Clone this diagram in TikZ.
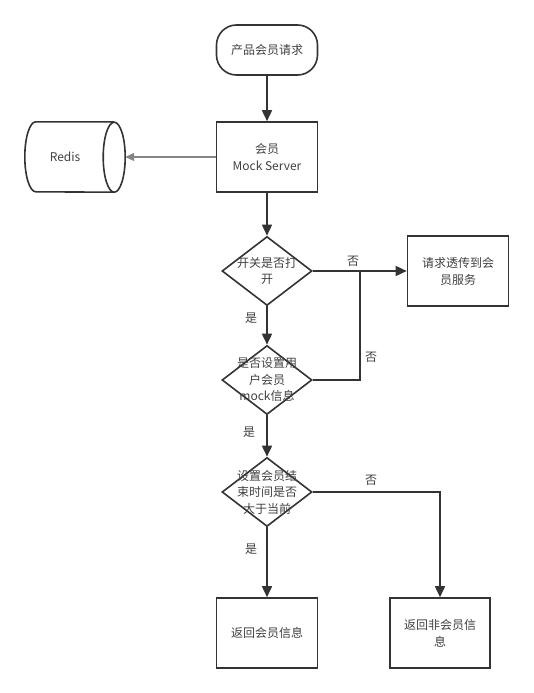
\documentclass[tikz,border=0pt]{standalone}
\usepackage{fontspec}
\setmainfont{Noto Sans CJK SC}
\usetikzlibrary{arrows.meta,shapes.geometric}
\definecolor{flowLine}{HTML}{333333}
\definecolor{flowText}{HTML}{404040}
\definecolor{flowGray}{HTML}{858585}
\tikzset{
    fbox/.style={draw=flowLine, line width=1.6pt, minimum width=101pt, minimum height=70pt, align=center, text=flowText, font=\fontsize{12}{17}\selectfont},
    fterm/.style={fbox, rounded corners=20pt, minimum height=50pt},
    fdiam/.style={draw=flowLine, line width=1.6pt, diamond, minimum width=90pt, minimum height=69pt, inner sep=0pt},
    fdtext/.style={align=center, text=flowText, font=\fontsize{12}{16.5}\selectfont},
    fline/.style={-{Triangle[length=11pt, width=10pt]}, line width=1.6pt, draw=flowLine},
    flabel/.style={text=flowText, font=\fontsize{12}{14}\selectfont},
    fend/.style={x radius=11pt, y radius=35pt}
}

\begin{document}
\begin{tikzpicture}[x=1pt, y=-1pt]
            \useasboundingbox (0,0) rectangle (534,693);
            \node[fterm] (start) at (267,50) {产品会员请求};
            \node[fbox] (mock) at (267,157) {会员\\Mock Server};
            \node[minimum width=100pt, minimum height=70pt, text=flowText, font=\fontsize{12}{14}\selectfont, xshift=-10pt] (redislabel) at (75,157) {Redis};
            \node[minimum width=100pt, minimum height=70pt, inner sep=0pt] (redis) at (75,157) {};
            % cylinder outline
            \draw[line width=1.6pt, draw=flowLine] ([xshift=-11pt]redis.north east) -- ([xshift=11pt]redis.north west)
                arc[start angle=90, end angle=270, fend] -- ([xshift=-11pt]redis.south east)
                arc[start angle=-90, end angle=90, fend] arc[start angle=90, end angle=270, fend];
            \node[fdiam, label={[fdtext]center:开关是否打\\开}] (sw) at (267,271) {};
            \node[fbox] (pass) at (458,271) {请求透传到会\\员服务};
            \node[fdiam, label={[fdtext]center:是否设置用\\户会员\\mock信息}] (mockset) at (267,380) {};
            \node[fdiam, label={[fdtext]center:设置会员结\\束时间是否\\大于当前}] (expire) at (267,492) {};
            \node[fbox] (member) at (267,633) {返回会员信息};
            \node[fbox, minimum width=100pt] (nonmember) at (440,633) {返回非会员信\\息};
            \coordinate (joint) at (360,271);
            % connectors
            \draw[fline] (start) -- (mock);
            \draw[fline, draw=flowGray, line width=1.2pt, -{Triangle[length=9pt, width=8pt]}] (mock.west) -- (redis.east);
            \draw[fline] (mock) -- (sw.north);
            \draw[fline] (sw.east) -- (pass.west);
            \draw[fline] (sw.south) -- (mockset.north);
            \draw[line width=1.6pt, draw=flowLine] (mockset.east) -| (joint);
            \draw[fline] (mockset.south) -- (expire.north);
            \draw[fline] (expire.south) -- (member.north);
            \draw[fline] (expire.east) -| (nonmember.north);
            % labels
            \node[flabel] (no1) at (353,261) {否};
            \node[flabel] (no2) at (371,357) {否};
            \node[flabel] (no3) at (371,480) {否};
            \node[flabel] (yes1) at (251,318) {是};
            \node[flabel] (yes2) at (249,432) {是};
            \node[flabel] (yes3) at (251,549) {是};
        \end{tikzpicture}
\end{document}
